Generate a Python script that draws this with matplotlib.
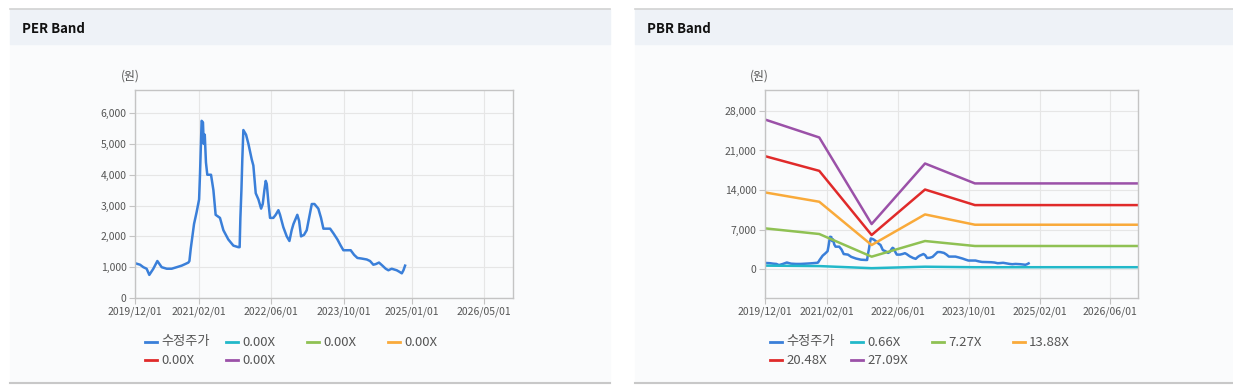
import matplotlib
matplotlib.use("Agg")
from matplotlib import pyplot as plt
from matplotlib.lines import Line2D
from matplotlib.patches import Rectangle
import matplotlib.ticker as mticker
import pandas as pd

plt.rcParams['font.family'] = ['Noto Sans CJK KR', 'DejaVu Sans']

W, H = 1233, 385

# adjusted price (수정주가)
price_dates = [
    '2019-12-01', '2020-01-04', '2020-01-26', '2020-02-17', '2020-03-06', '2020-04-02',
    '2020-04-29', '2020-05-28', '2020-07-01', '2020-08-03', '2020-09-06', '2020-10-09',
    '2020-11-01', '2020-11-23', '2020-11-30', '2020-12-09', '2020-12-20', '2020-12-31',
    '2021-01-18', '2021-02-03', '2021-02-09', '2021-02-20', '2021-03-01', '2021-03-06',
    '2021-03-13', '2021-03-21', '2021-03-30', '2021-04-24', '2021-05-10', '2021-05-25',
    '2021-06-23', '2021-07-16', '2021-08-18', '2021-09-21', '2021-10-24', '2021-11-02',
    '2021-11-07', '2021-11-14', '2021-11-20', '2021-11-27', '2021-12-15', '2021-12-31',
    '2022-01-22', '2022-02-02', '2022-02-18', '2022-03-08', '2022-03-26', '2022-04-06',
    '2022-04-17', '2022-04-26', '2022-05-03', '2022-05-14', '2022-05-25', '2022-06-16',
    '2022-07-02', '2022-07-20', '2022-07-31', '2022-08-22', '2022-09-14', '2022-10-02',
    '2022-10-17', '2022-10-29', '2022-11-24', '2022-12-06', '2022-12-19', '2023-01-08',
    '2023-01-26', '2023-02-11', '2023-03-01', '2023-03-19', '2023-04-14', '2023-05-02',
    '2023-05-18', '2023-07-02', '2023-07-24', '2023-08-20', '2023-09-11', '2023-09-29',
    '2023-11-17', '2023-12-10', '2024-01-01', '2024-01-30', '2024-03-04', '2024-03-26',
    '2024-04-17', '2024-05-03', '2024-05-25', '2024-06-17', '2024-07-09', '2024-07-27',
    '2024-08-18', '2024-09-21', '2024-10-09', '2024-10-25', '2024-11-05', '2024-11-16',
]
price_values = [
    1130, 1080, 1000, 950, 750, 950,
    1200, 1000, 950, 950, 1000, 1050,
    1100, 1150, 1200, 1600, 2000, 2400,
    2800, 3200, 4000, 5750, 5700, 5000,
    5300, 4400, 4000, 4000, 3500, 2700,
    2600, 2200, 1900, 1700, 1650, 1650,
    2600, 3500, 4500, 5450, 5300, 5000,
    4500, 4300, 3400, 3200, 2900, 3050,
    3500, 3800, 3700, 3100, 2600, 2600,
    2700, 2850, 2700, 2300, 2000, 1850,
    2200, 2400, 2700, 2500, 2000, 2050,
    2200, 2600, 3050, 3050, 2900, 2600,
    2250, 2250, 2100, 1900, 1700, 1550,
    1550, 1400, 1300, 1280, 1250, 1200,
    1080, 1100, 1150, 1050, 950, 900,
    950, 900, 850, 800, 900, 1050,
]

# PBR band lines
band_dates = ['2019-12-01', '2020-12-08', '2021-12-03', '2022-12-05', '2023-11-13', '2026-12-08']
band_066 = [650, 570, 200, 460, 370, 370]
band_727 = [7240, 6240, 2235, 5000, 4120, 4120]
band_1388 = [13590, 11940, 4290, 9700, 7880, 7880]
band_2048 = [20000, 17400, 6060, 14100, 11350, 11350]
band_2709 = [26470, 23300, 8000, 18700, 15180, 15180]

per_labels = ['수정주가', '0.00X', '0.00X', '0.00X', '0.00X', '0.00X']
pbr_labels = ['수정주가', '0.66X', '7.27X', '13.88X', '20.48X', '27.09X']
colors = ['#3a7fd9', '#22b8c9', '#8fc153', '#f9aa3a', '#e02a2a', '#9b51a8']

per_ticks = ['2019/12/01', '2021/02/01', '2022/06/01', '2023/10/01', '2025/01/01', '2026/05/01']
pbr_ticks = ['2019/12/01', '2021/02/01', '2022/06/01', '2023/10/01', '2025/02/01', '2026/06/01']
per_yticks = [0, 1000, 2000, 3000, 4000, 5000, 6000]
pbr_yticks = [0, 7000, 14000, 21000, 28000]


def fx(x):
    return x / W


def fy(y):
    return 1 - y / H


def panel(fig, x0, x1, title):
    fig.patches.append(Rectangle((fx(x0), fy(383)), fx(x1 - x0), (383 - 44) / H,
                                 transform=fig.transFigure, color='#fafbfc', zorder=-2))
    fig.patches.append(Rectangle((fx(x0), fy(44)), fx(x1 - x0), 35 / H,
                                 transform=fig.transFigure, color='#eef2f7', zorder=-2))
    fig.lines.append(Line2D([fx(x0), fx(x1)], [fy(9), fy(9)], transform=fig.transFigure,
                            color='#d2d2d2', lw=1.2))
    fig.lines.append(Line2D([fx(x0), fx(x1)], [fy(383), fy(383)], transform=fig.transFigure,
                            color='#c8c8c8', lw=1.5))
    fig.text(fx(x0 + 12), fy(29), title, fontsize=9.5, fontweight='bold', color='#111111',
             va='center', ha='left')


def style_axes(ax, ticks, yticks, xlim, ylim):
    ax.set_facecolor('#fafbfc')
    ax.set_xlim(pd.to_datetime(xlim[0]), pd.to_datetime(xlim[1]))
    ax.set_ylim(*ylim)
    ax.set_xticks(pd.to_datetime(ticks))
    ax.set_xticklabels(ticks)
    ax.set_yticks(yticks)
    ax.yaxis.set_major_formatter(mticker.StrMethodFormatter('{x:,.0f}'))
    ax.grid(True, color='#e6e6e6', lw=0.8)
    ax.set_axisbelow(True)
    for s in ax.spines.values():
        s.set_color('#c4c4c4')
        s.set_linewidth(1.0)
    ax.tick_params(length=4, width=0.8, color='#c4c4c4', labelsize=7.5,
                   labelcolor='#555555', pad=2)


def legend(fig, x0, labels):
    for i, (lab, col) in enumerate(zip(labels, colors)):
        r, c = divmod(i, 4)
        x = x0 + c * 81
        y = 342 + r * 18
        fig.lines.append(Line2D([fx(x), fx(x + 12)], [fy(y), fy(y)], transform=fig.transFigure,
                                color=col, lw=2))
        fig.text(fx(x + 16), fy(y), lab, fontsize=9.5, color='#555555', va='center', ha='left')


fig = plt.figure(figsize=(W / 100, H / 100), dpi=100)
fig.patch.set_facecolor('white')

panel(fig, 10, 610, 'PER Band')
panel(fig, 635, 1233, 'PBR Band')

dates = pd.to_datetime(price_dates)
bdates = pd.to_datetime(band_dates)

# PER band
ax1 = fig.add_axes([fx(135), fy(298), (513 - 135) / W, (298 - 90) / H])
style_axes(ax1, per_ticks, per_yticks, ('2019-12-01', '2026-11-10'), (0, 6750))
ax1.plot(dates, price_values, color=colors[0], lw=1.8)
fig.text(fx(130), fy(76), '(원)', fontsize=8.5, color='#555555', ha='center', va='center')
legend(fig, 145, per_labels)

# PBR band
ax2 = fig.add_axes([fx(765), fy(298), (1138 - 765) / W, (298 - 90) / H])
style_axes(ax2, pbr_ticks, pbr_yticks, ('2019-12-01', '2026-12-08'), (-5070, 31690))
ax2.plot(dates, price_values, color=colors[0], lw=1.8)
for vals, col in zip([band_066, band_727, band_1388, band_2048, band_2709], colors[1:]):
    ax2.plot(bdates, vals, color=col, lw=1.8)
fig.text(fx(759), fy(76), '(원)', fontsize=8.5, color='#555555', ha='center', va='center')
legend(fig, 770, pbr_labels)

fig.savefig('out.png', dpi=100)
